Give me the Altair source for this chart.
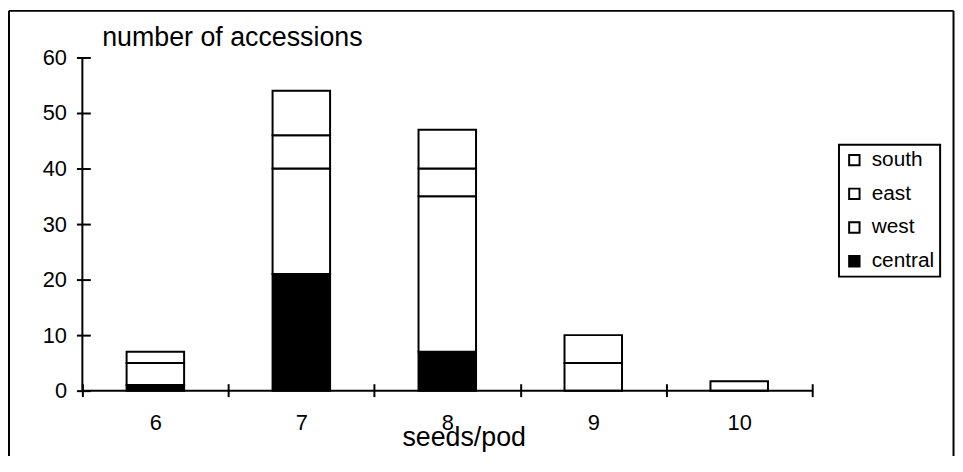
import altair as alt
import pandas as pd

# --- data ---
seeds = ["6", "7", "8", "9", "10"]
regions = ["central", "west", "east", "south"]          # stacking order, bottom -> top
central = [1, 21, 7, 0, 0]
west = [4, 19, 28, 5, 1.7]
east = [2, 6, 5, 5, 0]
south = [0, 8, 7, 0, 0]
y_ticks = [0, 10, 20, 30, 40, 50, 60]

series = {"central": central, "west": west, "east": east, "south": south}
rows = []
for rank, reg in enumerate(regions):
    for s, v in zip(seeds, series[reg]):
        if v > 0:
            rows.append({"seeds": s, "region": reg, "count": v, "rank": rank})
df = pd.DataFrame(rows)

FONT = "Liberation Sans"
W, H = 736, 336
one = alt.Data(values=[{}])

bars = alt.Chart(df).mark_bar(size=58, stroke="black", strokeWidth=2).encode(
    x=alt.X("seeds:N", sort=seeds,
            scale=alt.Scale(paddingInner=0, paddingOuter=0),
            axis=alt.Axis(title=None, tickBand="extent", domain=False, offset=-7,
                          tickSize=13, tickWidth=2, tickColor="black",
                          labelAngle=0, labelFontSize=22, labelFont=FONT,
                          labelColor="black", labelPadding=16, grid=False)),
    y=alt.Y("count:Q", stack="zero",
            scale=alt.Scale(domain=[0, 60], nice=False),
            axis=alt.Axis(title=None, values=y_ticks, domain=False, offset=-8,
                          tickSize=14, tickWidth=2, tickColor="black",
                          labelFontSize=22, labelFont=FONT, labelColor="black",
                          labelPadding=10, grid=False)),
    fill=alt.Fill("region:N",
                  scale=alt.Scale(domain=["south", "east", "west", "central"],
                                  range=["white", "white", "white", "black"]),
                  legend=alt.Legend(title=None, orient="none", legendX=763, legendY=88,
                                    direction="vertical", strokeColor="black",
                                    padding=5, rowPadding=12, symbolType="square",
                                    symbolSize=110, symbolStrokeColor="black",
                                    symbolStrokeWidth=2, labelFontSize=21,
                                    labelFont=FONT, labelColor="black", labelOffset=7)),
    order=alt.Order("rank:Q", sort="ascending"),
)

# axis lines
y_line = alt.Chart(one).mark_rule(color="black", strokeWidth=2).encode(
    x=alt.value(0), y=alt.value(0), y2=alt.value(H))
x_line = alt.Chart(one).mark_rule(color="black", strokeWidth=2).encode(
    x=alt.value(0), x2=alt.value(W), y=alt.value(H))

# outer frame
frame_l = alt.Chart(one).mark_rule(color="black", strokeWidth=2).encode(
    x=alt.value(-74), y=alt.value(-47), y2=alt.value(H + 70))
frame_t = alt.Chart(one).mark_rule(color="black", strokeWidth=2).encode(
    x=alt.value(-74), x2=alt.value(878.5), y=alt.value(-47))
frame_r = alt.Chart(one).mark_rule(color="black", strokeWidth=2).encode(
    x=alt.value(878.5), y=alt.value(-47), y2=alt.value(H + 70))

y_title = alt.Chart(one).mark_text(align="left", baseline="alphabetic", fontSize=27,
                                   font=FONT, color="black").encode(
    x=alt.value(20), y=alt.value(-12), text=alt.value("number of accessions"))
x_title = alt.Chart(one).mark_text(align="center", baseline="alphabetic", fontSize=27,
                                   font=FONT, color="black").encode(
    x=alt.value(385), y=alt.value(392), text=alt.value("seeds/pod"))

chart = alt.layer(frame_l, frame_t, frame_r, bars, y_line, x_line, y_title, x_title).properties(
    width=W, height=H,
    autosize=alt.AutoSizeParams(type="none"),
    padding={"left": 75, "top": 48, "right": 144, "bottom": 64},
    background="white",
).configure_view(strokeWidth=0).configure_legend(strokeWidth=2)

chart.save("out.html", embed_options={"renderer": "svg", "actions": False})
